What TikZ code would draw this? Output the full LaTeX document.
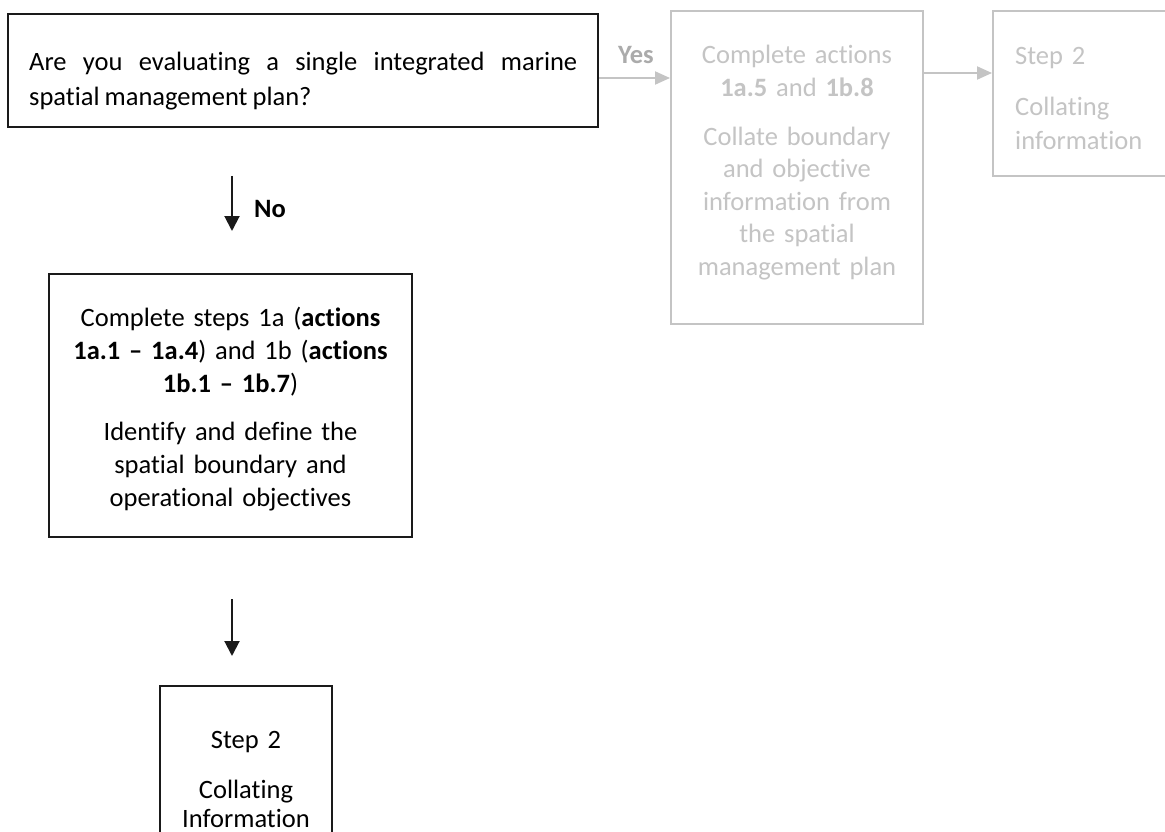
\documentclass[tikz,border=0pt]{standalone}
\usepackage{fontspec}
\setmainfont{Carlito}[RawFeature={-liga;-clig}, WordSpace=0.85]
\usetikzlibrary{arrows.meta}
\definecolor{ink}{HTML}{1A1A1A}
\definecolor{faded}{HTML}{C4C4C4}
\definecolor{fadedlabel}{HTML}{ABABAB}

\begin{document}
\begin{tikzpicture}[x=1pt,y=-1pt,
  box/.style={draw=ink, line width=2pt, rectangle, inner sep=0pt},
  gbox/.style={draw=faded, line width=2pt, rectangle, inner sep=0pt},
  txt/.style={inner sep=0pt, font=\fontsize{26.5}{33}\selectfont},
  arr/.style={draw=ink, line width=2pt, -{Triangle[length=15pt,width=15pt]}},
  garr/.style={draw=faded, line width=2pt, -{Triangle[length=15pt,width=13pt]}},
]
\clip (0,0) rectangle (1165,832);
\fill[white] (0,0) rectangle (1165,832);

% question box
\node[box, minimum width=590pt, minimum height=113pt] (q) at (303,70.5) {};
\node[txt, anchor=base west, text width=548pt, align=justify,
      font=\fontsize{26.5}{34.5}\selectfont] (qt) at (29,71)
  {Are you evaluating a single integrated marine\linebreak spatial management plan?};

% "No" branch
\node[box, minimum width=363pt, minimum height=263pt] (s1) at (230.5,405.5) {};
\node[txt, anchor=base, text width=350pt, align=center] (s1t) at (230.5,326)
  {Complete steps 1a (\textbf{actions}\\ \textbf{1a.1 – 1a.4}) and 1b (\textbf{actions}\\
   \textbf{1b.1 – 1b.7})\\[15pt] Identify and define the\\ spatial boundary and\\ operational objectives};

\node[box, minimum width=172pt, minimum height=200pt] (s2) at (246,786) {};
\node[txt, anchor=base, text width=160pt, align=center,
      font=\fontsize{26.5}{29}\selectfont] (s2t) at (246,748)
  {Step 2\\[21pt] Collating\\ Information};

% "Yes" branch, faded
\node[gbox, minimum width=252pt, minimum height=313pt] (a) at (797,167.5) {};
\node[txt, text=faded, anchor=base, text width=240pt, align=center,
      font=\fontsize{26.5}{32.5}\selectfont] (at) at (797,64)
  {Complete actions\\ \textbf{1a.5} and \textbf{1b.8}\\[16.5pt] Collate boundary\\ and objective\\
   information from\\ the spatial\\ management plan};

\node[gbox, minimum width=210pt, minimum height=165pt] (b) at (1098,93.5) {};
\node[txt, text=faded, anchor=base west, text width=140pt, align=left,
      font=\fontsize{26.5}{34}\selectfont] (bt) at (1015,65)
  {Step 2\\[17pt] Collating\\ information};

% branch labels
\node[txt, font=\fontsize{26.5}{32}\selectfont\bfseries, anchor=base west] (no) at (254,218) {No};
\node[txt, font=\fontsize{26.5}{32}\selectfont\bfseries, text=fadedlabel, anchor=base] (yes) at (636,64) {Yes};

% connectors
\coordinate (ax) at (232,0);
\coordinate (ya) at (0,78);
\coordinate (yb) at (0,73);
\draw[arr, shorten <=48pt, shorten >=42pt] (q.south -| ax) -- (s1.north -| ax);
\draw[arr, shorten <=61pt, shorten >=29pt] (s1.south -| ax) -- (s2.north -| ax);
\draw[garr] (q.east |- ya) -- (a.west |- ya);
\draw[garr] (a.east |- yb) -- (b.west |- yb);
\end{tikzpicture}
\end{document}
